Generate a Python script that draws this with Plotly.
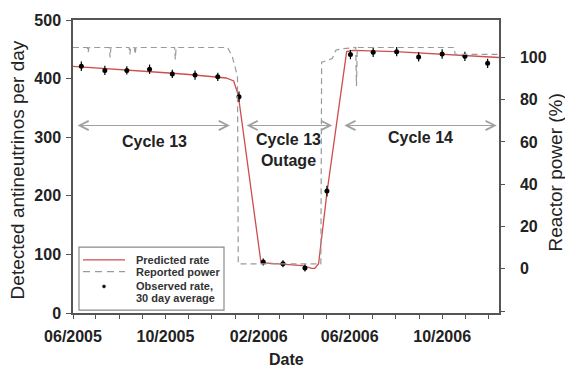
import plotly.graph_objects as go

# Observed detection rate, 30 day averages (counts per day) with 1-sigma errors
obs_dates = [
    "2005-06-12", "2005-07-13", "2005-08-11", "2005-09-10", "2005-10-10",
    "2005-11-09", "2005-12-09", "2006-01-06", "2006-02-07", "2006-03-05",
    "2006-04-03", "2006-05-02", "2006-06-02", "2006-07-02", "2006-08-02",
    "2006-08-31", "2006-10-01", "2006-10-31", "2006-11-30",
]
obs_rate = [421, 414, 414, 416, 408, 406, 403, 369, 87, 84,
            77, 208, 441, 445, 446, 437, 442, 438, 426]
obs_err = [8, 8, 7, 8, 7, 8, 7, 9, 6, 6, 6, 9, 8, 8, 8, 8, 8, 8, 8]

# Predicted detection rate (counts per day)
pred_dates = [
    "2005-06-01", "2005-07-01", "2005-08-01", "2005-09-01", "2005-10-01",
    "2005-11-01", "2005-12-01", "2005-12-20", "2005-12-30", "2006-01-05",
    "2006-02-04", "2006-03-04", "2006-03-31", "2006-04-12", "2006-04-16",
    "2006-04-21", "2006-05-02", "2006-05-28", "2006-06-05", "2006-08-01",
    "2006-10-01", "2006-12-15",
]
pred_rate = [421, 418, 415, 413, 410, 407, 404, 401, 396, 372,
             86, 84, 81, 76, 76, 84, 205, 446, 448, 446, 441, 436]

# Reported reactor thermal power (% of nominal)
power_dates = [
    "2005-06-01", "2005-06-20", "2005-06-21", "2005-06-22", "2005-07-19",
    "2005-07-20", "2005-07-21", "2005-08-14", "2005-08-15", "2005-08-16",
    "2005-08-21", "2005-08-22", "2005-08-23", "2005-10-13", "2005-10-14",
    "2005-10-15", "2005-12-22", "2005-12-28", "2006-01-01", "2006-01-04",
    "2006-01-05", "2006-04-24", "2006-04-25", "2006-05-09", "2006-05-14",
    "2006-05-24", "2006-06-09", "2006-06-10", "2006-06-11", "2006-10-17",
    "2006-10-18", "2006-12-15",
]
power_pct = [104.7, 104.7, 102.3, 104.7, 104.7,
             100.0, 104.7, 104.7, 101.4, 104.7,
             104.7, 101.4, 104.7, 104.7, 99.0,
             104.7, 104.7, 100.5, 95.3, 90.7,
             2.3, 2.3, 97.7, 99.5, 103.5,
             104.2, 104.7, 86.5, 104.7, 104.7,
             101.4, 101.4]

# Fuel cycle periods
cycle_labels = ["Cycle 13", "Cycle 13<br>Outage", "Cycle 14"]
cycle_start = ["2005-06-05", "2006-01-14", "2006-05-23"]
cycle_end = ["2005-12-25", "2006-05-09", "2006-12-12"]
cycle_text_x = ["2005-09-17", "2006-03-12", "2006-09-02"]
cycle_text_y = [292, 278, 299]
cycle_arrow_y = 320

x_ticks = ["2005-06-01", "2005-10-01", "2006-02-01", "2006-06-01", "2006-10-01"]
x_minor = ["2005-%02d-01" % m for m in range(6, 13)] + \
          ["2006-%02d-01" % m for m in range(1, 13)]
left_ticks = [0, 100, 200, 300, 400, 500]
right_ticks = [-20, 0, 20, 40, 60, 80, 100]
right_text = ["", "0", "20", "40", "60", "80", "100"]

FONT = "Liberation Sans, Arial, sans-serif"
AXIS = "#555555"
RED = "#cf4d4d"
GREY = "#9a9a9a"

fig = go.Figure()

fig.add_trace(go.Scatter(
    x=power_dates, y=power_pct, yaxis="y2", mode="lines",
    line=dict(color=GREY, width=1.2, dash="6px,4px"),
    name="Reported power", showlegend=False, hoverinfo="skip",
))
fig.add_trace(go.Scatter(
    x=pred_dates, y=pred_rate, mode="lines",
    line=dict(color=RED, width=1.3),
    name="Predicted rate", showlegend=False,
))
fig.add_trace(go.Scatter(
    x=obs_dates, y=obs_rate, mode="markers",
    marker=dict(color="black", size=5),
    error_y=dict(type="data", array=obs_err, color="black", thickness=1.2, width=0),
    name="Observed rate", showlegend=False,
))

annotations = []
for lab, x0, x1, tx, ty in zip(cycle_labels, cycle_start, cycle_end, cycle_text_x, cycle_text_y):
    annotations.append(dict(
        x=x1, y=cycle_arrow_y, ax=x0, ay=cycle_arrow_y, xref="x", yref="y",
        axref="x", ayref="y", text="", showarrow=True,
        arrowhead=5, startarrowhead=5, arrowside="end+start",
        arrowsize=1.5, startarrowsize=1.5, arrowwidth=1.2, arrowcolor="#a0a0a0",
        standoff=0, startstandoff=0,
    ))
    annotations.append(dict(
        x=tx, y=ty, xref="x", yref="y", text=lab, showarrow=False,
        font=dict(family=FONT, size=16, color="#222222", weight="bold"),
        align="center", xanchor="center", yanchor="middle",
    ))

# axis titles
annotations += [
    dict(x=-0.1315, y=0.49, xref="paper", yref="paper", text="Detected antineutrinos per day",
         textangle=-90, showarrow=False, xanchor="center", yanchor="middle",
         font=dict(family=FONT, size=19, color="#222222")),
    dict(x=1.132, y=0.48, xref="paper", yref="paper", text="Reactor power (%)",
         textangle=-90, showarrow=False, xanchor="center", yanchor="middle",
         font=dict(family=FONT, size=19, color="#222222")),
    dict(x=0.502, y=-0.158, xref="paper", yref="paper", text="Date", showarrow=False,
         xanchor="center", yanchor="middle",
         font=dict(family=FONT, size=16, color="#222222", weight="bold")),
]

# legend box drawn in paper coordinates
def px(x):
    return (x - 73) / 426.0

def py(y):
    return (313 - y) / 298.0

legend_font = dict(family=FONT, size=11, color="#333333", weight="bold")
for txt, yy in [("Predicted rate", 259), ("Reported power", 271),
                ("Observed rate,", 286), ("30 day average", 298)]:
    annotations.append(dict(x=px(134), y=py(yy), xref="paper", yref="paper", text=txt,
                            showarrow=False, xanchor="left", yanchor="middle", font=legend_font))

shapes = [
    dict(type="rect", xref="paper", yref="paper", x0=px(79), x1=px(224), y0=py(310), y1=py(246),
         line=dict(color="#8a8a8a", width=1.2), fillcolor="white", layer="above"),
    dict(type="line", xref="paper", yref="paper", x0=px(83), x1=px(125), y0=py(259), y1=py(259),
         line=dict(color=RED, width=1.2)),
    dict(type="line", xref="paper", yref="paper", x0=px(83), x1=px(125), y0=py(271), y1=py(271),
         line=dict(color=GREY, width=1.2, dash="7px,5px")),
    dict(type="circle", xref="paper", yref="paper", x0=px(102.5), x1=px(105.5),
         y0=py(287.5), y1=py(284.5), line=dict(color="black", width=0.5), fillcolor="black"),
]

tickfont = dict(family=FONT, size=16, color="#222222", weight="bold")

fig.update_layout(
    width=565, height=369, autosize=False,
    margin=dict(l=73, r=66, t=15, b=56),
    paper_bgcolor="white", plot_bgcolor="white",
    showlegend=False,
    annotations=annotations, shapes=shapes,
    xaxis=dict(
        type="date", range=["2005-06-01", "2006-12-15"],
        tickvals=x_ticks, tickformat="%m/%Y", tickfont=tickfont,
        ticks="outside", ticklen=4, tickwidth=1.2, tickcolor=AXIS,
        minor=dict(tickvals=x_minor, ticks="outside", ticklen=4, tickwidth=1.2, tickcolor=AXIS),
        showline=True, linecolor=AXIS, linewidth=1.5, mirror=True,
        showgrid=False, zeroline=False, ticklabelstandoff=4,
    ),
    yaxis=dict(
        range=[0, 500], tickvals=left_ticks, tickfont=tickfont,
        ticks="outside", ticklen=5, tickwidth=1.2, tickcolor=AXIS,
        showline=True, linecolor=AXIS, linewidth=1.5,
        showgrid=False, zeroline=False, ticklabelstandoff=2,
    ),
    yaxis2=dict(
        overlaying="y", side="right", range=[-20.9, 117.7],
        tickvals=right_ticks, ticktext=right_text, tickfont=tickfont,
        ticks="outside", ticklen=4, tickwidth=1.2, tickcolor=AXIS,
        showline=True, linecolor=AXIS, linewidth=1.5,
        showgrid=False, zeroline=False, ticklabelstandoff=12,
    ),
)

fig.write_html("out.html")
